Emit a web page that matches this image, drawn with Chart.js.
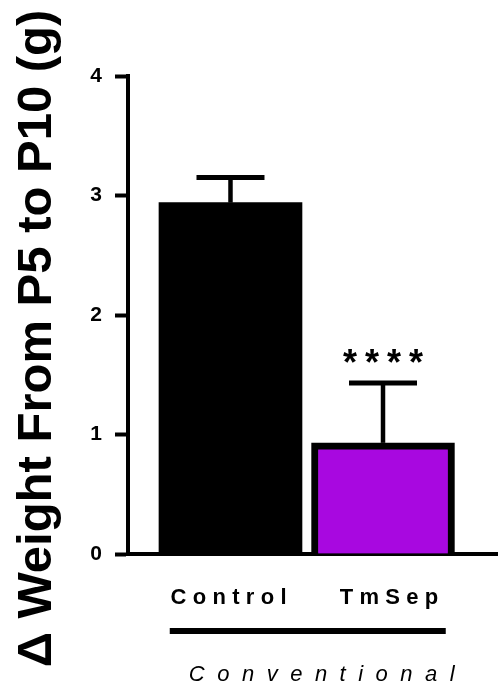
<!DOCTYPE html>
<html>
<head>
<meta charset="utf-8">
<script src="https://cdn.jsdelivr.net/npm/chart.js@4.4.1/dist/chart.umd.min.js"></script>
<style>
  html, body { margin: 0; padding: 0; background: #ffffff; }
  #wrap { width: 498px; height: 691px; position: relative; }
</style>
</head>
<body>
<div id="wrap"><canvas id="chart"></canvas></div>
<script>
// Weight gain between postnatal day 5 and day 10
const categories = ['Control', 'TmSep'];
const meanGain = [2.94, 0.93];
const semGain = [0.21, 0.50];
const significance = ['', '****'];
const yTicks = [0, 1, 2, 3, 4];
const groupLabel = 'Conventional';
const yTitle = 'Δ Weight From P5 to P10 (g)';

const FONT = '"Liberation Sans", Arial, Helvetica, sans-serif';
Chart.defaults.font.family = FONT;
Chart.defaults.color = '#000';

// Draws text with letter spacing, centred on its ink rather than its advance
function spacedText(ctx, text, cx, baseline, spacing) {
  const hasSpacing = 'letterSpacing' in ctx;
  if (hasSpacing) ctx.letterSpacing = spacing + 'px';
  const w = ctx.measureText(text).width - (hasSpacing ? spacing : 0);
  ctx.textAlign = 'left';
  ctx.fillText(text, cx - w / 2, baseline);
  if (hasSpacing) ctx.letterSpacing = '0px';
}

const errorBars = {
  id: 'errorBars',
  afterDatasetsDraw(chart) {
    const { ctx, scales: { x, y } } = chart;
    ctx.save();
    ctx.strokeStyle = '#000';
    ctx.fillStyle = '#000';
    ctx.lineCap = 'butt';
    meanGain.forEach((m, i) => {
      const cx = x.getPixelForValue(i + 1);
      const yMean = y.getPixelForValue(m);
      const yTop = y.getPixelForValue(m + semGain[i]);
      ctx.lineWidth = 4.5;
      ctx.beginPath();
      ctx.moveTo(cx, yMean);
      ctx.lineTo(cx, yTop);
      ctx.stroke();
      ctx.lineWidth = 5;
      ctx.beginPath();
      ctx.moveTo(cx - 34, yTop);
      ctx.lineTo(cx + 34, yTop);
      ctx.stroke();

      if (significance[i]) {
        ctx.font = 'bold 36px ' + FONT;
        const m2 = ctx.measureText(significance[i]);
        const target = yTop - 27;
        const base = target + (m2.actualBoundingBoxAscent - m2.actualBoundingBoxDescent) / 2;
        spacedText(ctx, significance[i], cx, base, 8);
      }
    });
    ctx.restore();
  }
};

const annotations = {
  id: 'annotations',
  afterDraw(chart) {
    const { ctx, chartArea, scales: { x } } = chart;
    const bottom = chartArea.bottom;
    ctx.save();
    ctx.fillStyle = '#000';
    ctx.textBaseline = 'alphabetic';

    // category names under the bars
    const shift = [-2, 6];
    ctx.font = 'bold 22px ' + FONT;
    categories.forEach((c, i) => {
      spacedText(ctx, c, x.getPixelForValue(i + 1) + shift[i], bottom + 50, 6.3);
    });

    // grouping rule and group name
    const mid = (x.getPixelForValue(1) + x.getPixelForValue(categories.length)) / 2;
    ctx.fillRect(mid - 137, bottom + 74, 276, 6);
    ctx.font = 'italic 22px ' + FONT;
    spacedText(ctx, groupLabel, mid + 15, bottom + 127, 12.5);

    // y-axis title
    ctx.translate(51, 338.5);
    ctx.rotate(-Math.PI / 2);
    ctx.textAlign = 'center';
    ctx.font = 'bold 49px ' + FONT;
    ctx.fillText(yTitle, 0, 0);
    ctx.restore();
  }
};

new Chart(document.getElementById('chart'), {
  type: 'bar',
  data: {
    datasets: [{
      data: categories.map((c, i) => ({ x: i + 1, y: meanGain[i] })),
      backgroundColor: ['#000000', '#a808e0'],
      borderColor: '#000000',
      borderWidth: [0, 7],
      borderSkipped: 'start',
      barThickness: 143
    }]
  },
  options: {
    responsive: true,
    maintainAspectRatio: false,
    animation: false,
    events: [],
    layout: { padding: { top: 76, left: 0, right: 0, bottom: 0 } },
    plugins: { legend: { display: false }, tooltip: { enabled: false } },
    scales: {
      x: {
        type: 'linear',
        min: 0.328,
        max: 2.754,
        offset: false,
        z: 1,
        grid: { display: false },
        border: { display: true, width: 4, color: '#000' },
        ticks: { display: false },
        afterFit(scale) { scale.height = 137; }
      },
      y: {
        min: 0,
        max: 4,
        z: 1,
        afterBuildTicks(scale) { scale.ticks = yTicks.map(v => ({ value: v })); },
        grid: {
          display: true,
          drawOnChartArea: false,
          drawTicks: true,
          tickLength: 13,
          tickWidth: 4,
          tickColor: '#000'
        },
        border: { display: true, width: 4, color: '#000' },
        ticks: {
          padding: 13,
          color: '#000',
          font: { size: 21, weight: 'bold' }
        },
        afterFit(scale) { scale.width = 128; }
      }
    }
  },
  plugins: [errorBars, annotations]
});
</script>
</body>
</html>
